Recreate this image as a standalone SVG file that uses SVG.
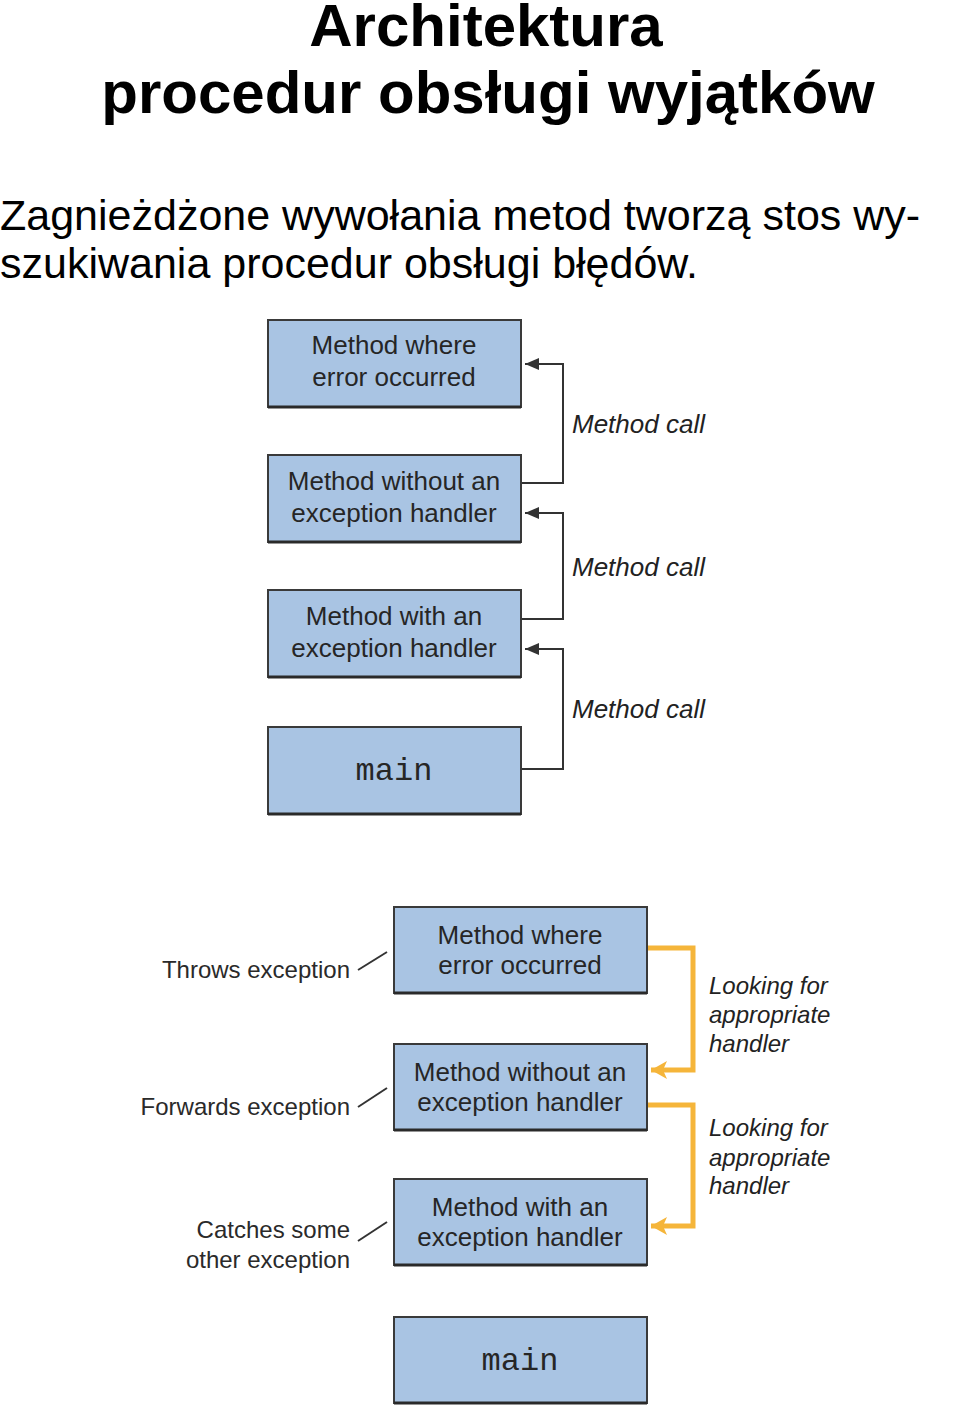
<svg xmlns="http://www.w3.org/2000/svg" width="960" height="1410" viewBox="0 0 960 1410">
<style>
.title{font-family:"Liberation Sans",Arial,sans-serif;font-weight:bold;font-size:60px;fill:#000;text-anchor:middle}
.sub{font-family:"Liberation Sans",Arial,sans-serif;font-size:43px;fill:#000}
.box{fill:#a9c4e3;stroke:#3a3a3a;stroke-width:2}
.shadow{stroke:#2a2a2a;stroke-width:3}
.bt{font-family:"Liberation Sans",Arial,sans-serif;font-size:26px;fill:#262626;text-anchor:middle}
.mono{font-family:"Liberation Mono","Courier New",monospace;font-size:32px;fill:#262626;text-anchor:middle}
.call{font-family:"Liberation Sans",Arial,sans-serif;font-style:italic;font-size:26px;fill:#222}
.look{font-family:"Liberation Sans",Arial,sans-serif;font-style:italic;font-size:24px;fill:#222}
.lab{font-family:"Liberation Sans",Arial,sans-serif;font-size:24px;fill:#2a2a2a;text-anchor:end}
.blk{fill:none;stroke:#333;stroke-width:2}
.yel{fill:none;stroke:#f5b53a;stroke-width:5}
.tick{stroke:#333;stroke-width:2}
</style>
<defs>
<marker id="ab" markerUnits="userSpaceOnUse" viewBox="0 0 14 12" refX="14" refY="6" markerWidth="14" markerHeight="12" orient="auto">
<path d="M0,0 L14,6 L0,12 z" fill="#333"/>
</marker>
<marker id="ay" markerUnits="userSpaceOnUse" viewBox="0 0 16 18" refX="16" refY="9" markerWidth="16" markerHeight="18" orient="auto">
<path d="M0,0 L16,9 L0,18 L4,9 z" fill="#f5b53a"/>
</marker>
</defs>
<text class="title" x="486" y="46">Architektura</text>
<text class="title" x="488" y="113">procedur obsługi wyjątków</text>
<text class="sub" x="0" y="230">Zagnieżdżone wywołania metod tworzą stos wy-</text>
<text class="sub" x="0" y="278">szukiwania procedur obsługi błędów.</text>

<g id="connectors">
<path class="blk" d="M521,483 H563 V364 H525" marker-end="url(#ab)"/>
<path class="blk" d="M521,619 H563 V513 H525" marker-end="url(#ab)"/>
<path class="blk" d="M521,769 H563 V649 H525" marker-end="url(#ab)"/>
<path class="yel" d="M647,948 H693 V1070 H651" marker-end="url(#ay)"/>
<path class="yel" d="M647,1105 H693 V1226 H651" marker-end="url(#ay)"/>
<line class="tick" x1="358" y1="970" x2="387" y2="952"/>
<line class="tick" x1="358" y1="1107" x2="387" y2="1088"/>
<line class="tick" x1="358" y1="1241" x2="387" y2="1222"/>
</g>
<g id="labels">
<text class="call" x="572" y="433">Method call</text>
<text class="call" x="572" y="576">Method call</text>
<text class="call" x="572" y="718">Method call</text>
<text class="look" x="709" y="994">Looking for</text>
<text class="look" x="709" y="1023">appropriate</text>
<text class="look" x="709" y="1052">handler</text>
<text class="look" x="709" y="1136">Looking for</text>
<text class="look" x="709" y="1166">appropriate</text>
<text class="look" x="709" y="1194">handler</text>
<text class="lab" x="350" y="978">Throws exception</text>
<text class="lab" x="350" y="1115">Forwards exception</text>
<text class="lab" x="350" y="1238">Catches some</text>
<text class="lab" x="350" y="1268">other exception</text>
</g>

<g id="t1">
<rect class="box" x="268" y="320" width="253" height="87"/>
<line class="shadow" x1="268" y1="407" x2="521" y2="407"/>
<text class="bt" x="394" y="354">Method where</text>
<text class="bt" x="394" y="386">error occurred</text>
</g>
<g id="t2">
<rect class="box" x="268" y="455" width="253" height="87"/>
<line class="shadow" x1="268" y1="542" x2="521" y2="542"/>
<text class="bt" x="394" y="490">Method without an</text>
<text class="bt" x="394" y="522">exception handler</text>
</g>
<g id="t3">
<rect class="box" x="268" y="590" width="253" height="87"/>
<line class="shadow" x1="268" y1="677" x2="521" y2="677"/>
<text class="bt" x="394" y="625">Method with an</text>
<text class="bt" x="394" y="657">exception handler</text>
</g>
<g id="t4">
<rect class="box" x="268" y="727" width="253" height="87"/>
<line class="shadow" x1="268" y1="814" x2="521" y2="814"/>
<text class="mono" x="394" y="780">main</text>
</g>

<g id="b1">
<rect class="box" x="394" y="907" width="253" height="86"/>
<line class="shadow" x1="394" y1="993" x2="647" y2="993"/>
<text class="bt" x="520" y="944">Method where</text>
<text class="bt" x="520" y="974">error occurred</text>
</g>
<g id="b2">
<rect class="box" x="394" y="1044" width="253" height="86"/>
<line class="shadow" x1="394" y1="1130" x2="647" y2="1130"/>
<text class="bt" x="520" y="1081">Method without an</text>
<text class="bt" x="520" y="1111">exception handler</text>
</g>
<g id="b3">
<rect class="box" x="394" y="1179" width="253" height="86"/>
<line class="shadow" x1="394" y1="1265" x2="647" y2="1265"/>
<text class="bt" x="520" y="1216">Method with an</text>
<text class="bt" x="520" y="1246">exception handler</text>
</g>
<g id="b4">
<rect class="box" x="394" y="1317" width="253" height="86"/>
<line class="shadow" x1="394" y1="1403" x2="647" y2="1403"/>
<text class="mono" x="520" y="1370">main</text>
</g>
</svg>
